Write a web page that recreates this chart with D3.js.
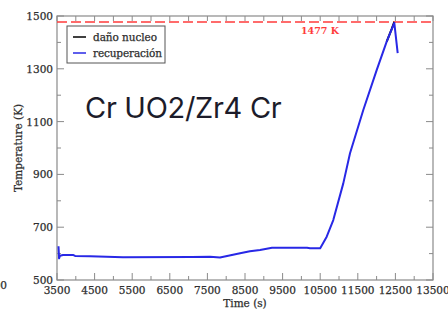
<!DOCTYPE html>
<html>
<head>
<meta charset="utf-8">
<script src="https://cdn.jsdelivr.net/npm/d3@7"></script>
<style>
body { margin: 0; background: #fff; }
svg { display: block; }
</style>
</head>
<body>
<div id="vis"></div>
<script>
// time (s) / temperature (K)
var recupTime = [3540, 3555, 3580, 3660, 3925, 3980, 4378, 5255, 7090, 7570, 7835, 8370, 8630, 8900, 9218, 10150, 10230, 10500, 10673, 10848, 11114, 11293, 11646, 12002, 12268, 12471, 12561];
var recupTemp = [628, 582, 592, 595, 595, 591, 590, 586, 587, 588, 585, 601, 609, 614, 622, 622, 620, 620, 664, 727, 866, 980, 1144, 1295, 1403, 1474, 1359];
var danoTime = [12268, 12400, 12471];
var danoTemp = [1403, 1450, 1478];

var xTicks = [3500, 4500, 5500, 6500, 7500, 8500, 9500, 10500, 11500, 12500, 13500];
var yTicks = [500, 700, 900, 1100, 1300, 1500];
var limitTemp = 1477;

var width = 448, height = 311;
var margin = {left: 57, right: 15, top: 16, bottom: 31};

var svg = d3.select("#vis")
    .append("svg")
    .attr("width", width)
    .attr("height", height);

var x = d3.scaleLinear().domain([3500, 13500]).range([margin.left, width - margin.right]);
var y = d3.scaleLinear().domain([500, 1500]).range([height - margin.bottom, margin.top]);

var serif = "'DejaVu Serif', 'Liberation Serif', serif";
var tickColor = "#8a8a8a";
var textColor = "#2e2e2e";

// frame
svg.append("rect")
    .attr("x", x(3500))
    .attr("y", y(1500))
    .attr("width", x(13500) - x(3500))
    .attr("height", y(500) - y(1500))
    .attr("fill", "none")
    .attr("stroke", tickColor)
    .attr("stroke-width", 1.2);

// inward ticks on all four sides
var xMinor = d3.range(4000, 13500, 1000);
var yMinor = d3.range(600, 1500, 200);

function tickLines(vals, len, side) {
    svg.append("g").selectAll("line")
        .data(vals)
        .enter()
        .append("line")
        .attr("x1", function(d) { return side == "b" || side == "t" ? x(d) : (side == "l" ? x(3500) : x(13500)); })
        .attr("x2", function(d) { return side == "b" || side == "t" ? x(d) : (side == "l" ? x(3500) + len : x(13500) - len); })
        .attr("y1", function(d) { return side == "l" || side == "r" ? y(d) : (side == "b" ? y(500) : y(1500)); })
        .attr("y2", function(d) { return side == "l" || side == "r" ? y(d) : (side == "b" ? y(500) - len : y(1500) + len); })
        .attr("stroke", tickColor)
        .attr("stroke-width", 1);
}
tickLines(xTicks, 7, "b");
tickLines(xMinor, 4, "b");
tickLines(xTicks, 5, "t");
tickLines(xMinor, 5, "t");
tickLines(yTicks, 7, "l");
tickLines(yMinor, 4, "l");
tickLines(yTicks, 7, "r");
tickLines(yMinor, 4, "r");

function label(sel) {
    return sel
        .attr("font-family", serif)
        .attr("font-size", 10.5)
        .attr("fill", textColor)
        .attr("stroke", textColor)
        .attr("stroke-width", 0.25);
}

// tick labels
label(svg.append("g").selectAll("text")
    .data(xTicks)
    .enter()
    .append("text")
    .attr("x", function(d) { return x(d); })
    .attr("y", y(500) + 14)
    .attr("text-anchor", "middle"))
    .text(function(d) { return d; });

label(svg.append("g").selectAll("text")
    .data(yTicks)
    .enter()
    .append("text")
    .attr("x", x(3500) - 4)
    .attr("y", function(d) { return y(d) + 4; })
    .attr("text-anchor", "end"))
    .text(function(d) { return d; });

// stray label cut at the left edge
label(svg.append("text")
    .attr("x", 7)
    .attr("y", 289)
    .attr("text-anchor", "end"))
    .text("500");

// axis titles
label(svg.append("text")
    .attr("x", (x(3500) + x(13500)) / 2)
    .attr("y", 307)
    .attr("text-anchor", "middle"))
    .text("Time (s)");

label(svg.append("text")
    .attr("transform", "translate(22," + ((y(500) + y(1500)) / 2) + ") rotate(-90)")
    .attr("text-anchor", "middle"))
    .text("Temperature (K)");

// limit line
svg.append("line")
    .attr("x1", x(3500))
    .attr("x2", x(13500))
    .attr("y1", y(limitTemp))
    .attr("y2", y(limitTemp))
    .attr("stroke", "#ff3b3b")
    .attr("stroke-width", 1.6)
    .attr("stroke-dasharray", "10,4");

svg.append("text")
    .attr("x", 301)
    .attr("y", 34)
    .attr("font-family", serif)
    .attr("font-size", 9.5)
    .attr("font-weight", "bold")
    .attr("fill", "#ff3b3b")
    .text(limitTemp + " K");

// series
var line = d3.line()
    .x(function(d) { return x(d[0]); })
    .y(function(d) { return y(d[1]); });

svg.append("path")
    .datum(d3.zip(danoTime, danoTemp))
    .attr("d", line)
    .attr("fill", "none")
    .attr("stroke", "#000")
    .attr("stroke-width", 2);

svg.append("path")
    .datum(d3.zip(recupTime, recupTemp))
    .attr("d", line)
    .attr("fill", "none")
    .attr("stroke", "#2828e6")
    .attr("stroke-width", 2)
    .attr("stroke-linejoin", "round");

// legend
var legend = svg.append("g").attr("transform", "translate(67,26)");
legend.append("rect")
    .attr("width", 98)
    .attr("height", 37)
    .attr("fill", "#fff")
    .attr("stroke", "#555")
    .attr("stroke-width", 1);

var legendItems = [["daño nucleo", "#000"], ["recuperación", "#2828e6"]];
legendItems.forEach(function(item, i) {
    legend.append("line")
        .attr("x1", 6).attr("x2", 19)
        .attr("y1", 11 + i * 16).attr("y2", 11 + i * 16)
        .attr("stroke", item[1])
        .attr("stroke-width", 1.5);
    label(legend.append("text")
        .attr("x", 26)
        .attr("y", 15 + i * 16)
        .attr("font-size", 10.5)
        .attr("textLength", i == 0 ? 64 : 69))
        .text(item[0]);
});

// overlay label
svg.append("text")
    .attr("x", 85)
    .attr("y", 118)
    .attr("font-family", "Inter, 'Noto Sans', sans-serif")
    .attr("font-size", 29)
    .attr("font-weight", 400)
    .attr("letter-spacing", -0.3)
    .attr("fill", "#1c1c2a")
    .text("Cr UO2/Zr4 Cr");
</script>
</body>
</html>
